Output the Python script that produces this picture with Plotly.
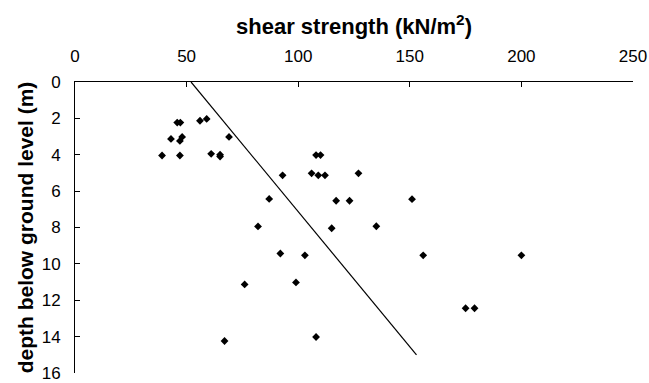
import plotly.graph_objects as go

# shear strength (kN/m2) and depth (m) of test results
strength = [45.8, 47.2, 56, 59, 43, 48, 47, 69, 39, 47, 61, 65, 65,
            93, 87, 82, 108, 110, 106, 109, 112, 127, 117, 123, 151,
            115, 135, 92, 103, 156, 200, 76, 99, 175, 179, 108, 67]
depth = [2.23, 2.23, 2.13, 2.03, 3.13, 3.02, 3.24, 3.02, 4.04, 4.04, 3.95, 4.0, 4.1,
         5.13, 6.43, 7.94, 4.02, 4.02, 5.02, 5.13, 5.13, 5.02, 6.53, 6.53, 6.44,
         8.04, 7.93, 9.43, 9.53, 9.53, 9.53, 11.13, 11.02, 12.44, 12.44, 14.02, 14.24]

# design line
line_strength = [52, 153]
line_depth = [0, 15]

x_ticks = [0, 50, 100, 150, 200, 250]
y_ticks = [0, 2, 4, 6, 8, 10, 12, 14, 16]

fig = go.Figure()
fig.add_trace(go.Scatter(x=line_strength, y=line_depth, mode="lines",
                         line=dict(color="black", width=1.2), showlegend=False,
                         cliponaxis=False))
fig.add_trace(go.Scatter(x=strength, y=depth, mode="markers",
                         marker=dict(symbol="diamond", size=6, color="black"),
                         showlegend=False))

font_fam = "Liberation Sans, Arial, sans-serif"
fig.update_layout(
    width=649, height=383,
    margin=dict(l=75, r=16, t=82, b=10, autoexpand=False),
    paper_bgcolor="white", plot_bgcolor="white",
    font=dict(family=font_fam, color="black", size=17),
    xaxis=dict(
        side="top", range=[0, 250], tickvals=x_ticks,
        showline=True, linecolor="black", linewidth=1, mirror=False,
        ticks="inside", ticklen=5, tickcolor="black",
        showgrid=False, zeroline=False,
        ticklabelstandoff=12, ticklabeloverflow="allow",
        title=dict(text="<b>shear strength (kN/m<sup>2</sup>)</b>",
                   font=dict(size=22), standoff=6),
    ),
    yaxis=dict(
        range=[16, 0], tickvals=y_ticks,
        showline=True, linecolor="black", linewidth=1,
        ticks="inside", ticklen=5, tickcolor="black",
        showgrid=False, zeroline=False,
        ticklabelstandoff=10, ticklabeloverflow="allow",
        title=dict(text="<b>depth below ground level (m)</b>",
                   font=dict(size=21), standoff=2),
    ),
)

fig.write_html("out.html")
